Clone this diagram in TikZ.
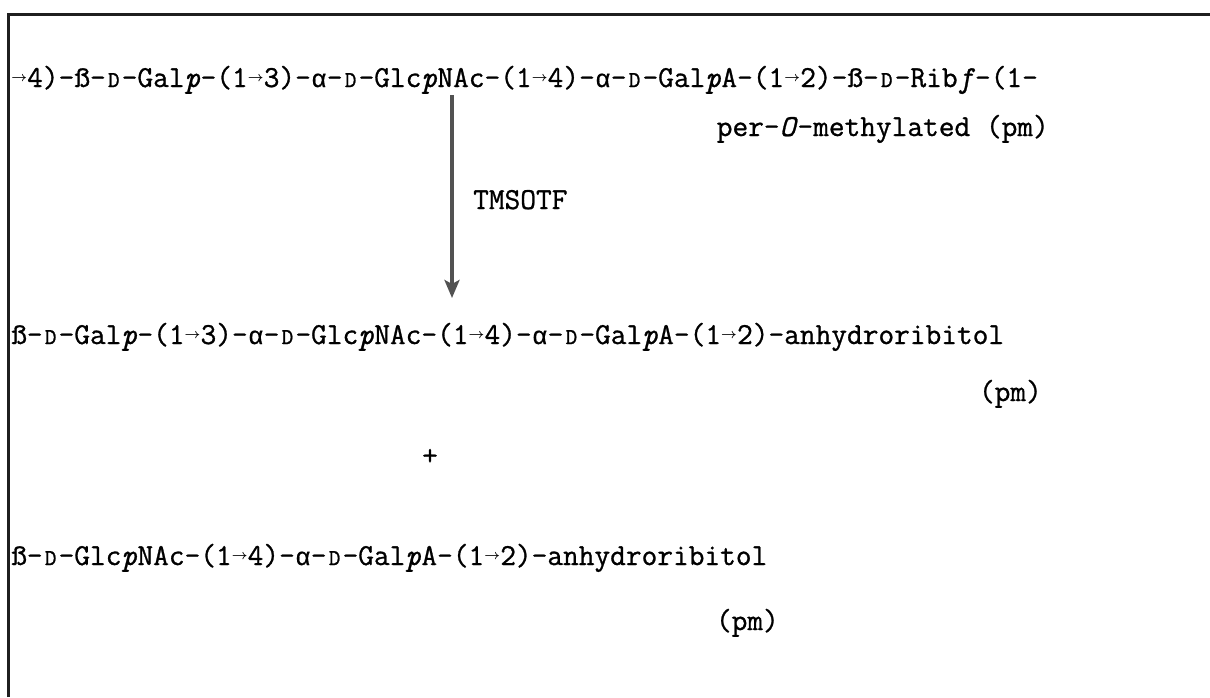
\documentclass[tikz,border=0pt]{standalone}
\usetikzlibrary{arrows.meta}
\usepackage{graphicx}
\usepackage{amsmath}
\usepackage{fontspec}
\setmonofont{Latin Modern Mono}[FakeBold=0.9]
\newfontfamily\grk{Liberation Mono}[FakeBold=0.6]
\newcommand{\Dsc}{\makebox[0.525em]{\scalebox{0.74}{D}}}
\newcommand{\alp}{\makebox[0.525em]{{\grk\fontsize{25pt}{30pt}\selectfont α}}}
\newcommand{\arr}{\makebox[0.525em]{\raisebox{0.17em}{\scalebox{0.55}{$\boldsymbol{\rightarrow}$}}}}
\newcommand{\bet}{ß}
\begin{document}
\begin{tikzpicture}[x=1pt,y=-1pt,
  txt/.style={inner sep=0pt,font=\fontsize{30.5pt}{36pt}\selectfont\ttfamily},
  frame/.style={line width=3pt,draw=black!88},
  reaction/.style={line width=3.6pt,draw=black!68,-{Stealth[width=15pt,length=18pt,inset=4pt]}}]
\useasboundingbox[fill=white] (0,0) rectangle (1210,697);
% frame (open at right and bottom)
\draw[frame] (8,697) -- (8,14) -- (1210,14);
% texts
\node[txt,anchor=base west] (l1) at (11,87) {\arr4)-\bet-\Dsc-Gal\textit{p}-(1\arr3)-\alp-\Dsc-Glc\textit{p}NAc-(1\arr4)-\alp-\Dsc-Gal\textit{p}A-(1\arr2)-\bet-\Dsc-Rib\textit{f}-(1-};
\node[txt,anchor=base east] (pm1) at (1049,136) {per-\textit{O}-methylated (pm)};
\node[txt,anchor=base west] (tms) at (473,209) {TMSOTF};
\node[txt,anchor=base west] (l3) at (11,344) {\bet-\Dsc-Gal\textit{p}-(1\arr3)-\alp-\Dsc-Glc\textit{p}NAc-(1\arr4)-\alp-\Dsc-Gal\textit{p}A-(1\arr2)-anhydroribitol};
\node[txt,anchor=base east] (pm2) at (1042,401) {(pm)};
\node[txt] (plus) at (430,457) {+};
\node[txt,anchor=base west] (l5) at (11,565) {\bet-\Dsc-Glc\textit{p}NAc-(1\arr4)-\alp-\Dsc-Gal\textit{p}A-(1\arr2)-anhydroribitol};
\node[txt,anchor=base east] (pm3) at (779,630) {(pm)};
% reaction arrow
\coordinate (astart) at (452,95);
\coordinate (aend) at (452,298);
\draw[reaction] (astart) -- (aend);
\end{tikzpicture}
\end{document}
